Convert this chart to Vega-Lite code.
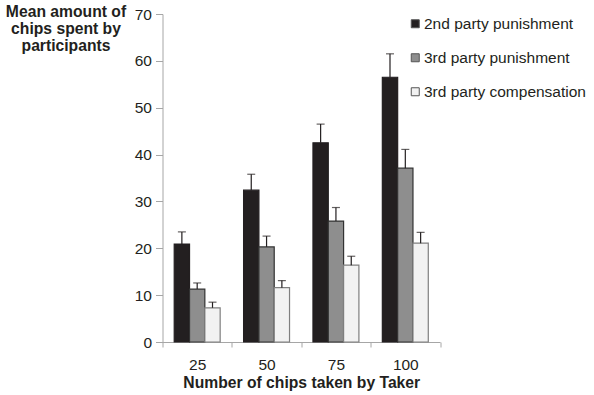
{
  "$schema": "https://vega.github.io/schema/vega-lite/v6.json",
  "autosize": "none",
  "padding": {"left": 162.5, "top": 14, "right": 154, "bottom": 53},
  "width": 277.5,
  "height": 328,
  "background": "white",
  "config": {
    "font": "Liberation Sans",
    "view": {"stroke": null},
    "axis": {"grid": false, "domainColor": "#a6a6a6", "tickColor": "#a6a6a6", "labelColor": "#231f20", "titleColor": "#231f20", "labelFontSize": 15.5, "titleFontSize": 15.7, "titleFontWeight": "bold", "labelFont": "Liberation Sans", "titleFont": "Liberation Sans"},
    "legend": {"labelFont": "Liberation Sans", "labelFontSize": 15.5, "labelColor": "#231f20"}
  },
  "data": {"values": [
    {"taken": "25", "cond": "2nd party punishment", "mean": 20.9, "upper": 23.5},
    {"taken": "25", "cond": "3rd party punishment", "mean": 11.3, "upper": 12.6},
    {"taken": "25", "cond": "3rd party compensation", "mean": 7.3, "upper": 8.5},
    {"taken": "50", "cond": "2nd party punishment", "mean": 32.4, "upper": 35.8},
    {"taken": "50", "cond": "3rd party punishment", "mean": 20.3, "upper": 22.6},
    {"taken": "50", "cond": "3rd party compensation", "mean": 11.6, "upper": 13.1},
    {"taken": "75", "cond": "2nd party punishment", "mean": 42.5, "upper": 46.5},
    {"taken": "75", "cond": "3rd party punishment", "mean": 25.8, "upper": 28.7},
    {"taken": "75", "cond": "3rd party compensation", "mean": 16.4, "upper": 18.3},
    {"taken": "100", "cond": "2nd party punishment", "mean": 56.5, "upper": 61.5},
    {"taken": "100", "cond": "3rd party punishment", "mean": 37.1, "upper": 41.1},
    {"taken": "100", "cond": "3rd party compensation", "mean": 21.1, "upper": 23.4}
  ]},
  "encoding": {
    "x": {"field": "taken", "type": "nominal", "sort": ["25", "50", "75", "100"],
      "scale": {"paddingInner": 0, "paddingOuter": 0},
      "axis": {"labelAngle": 0, "tickBand": "extent", "tickSize": 5, "labelPadding": 10, "title": "Number of chips taken by Taker", "titlePadding": 3}},
    "xOffset": {"field": "cond", "type": "nominal", "sort": ["2nd party punishment", "3rd party punishment", "3rd party compensation"],
      "scale": {"paddingInner": 0, "paddingOuter": 0.765}}
  },
  "layer": [
    {
      "mark": {"type": "bar", "strokeWidth": 1.2},
      "encoding": {
        "y": {"field": "mean", "type": "quantitative",
          "scale": {"domain": [0, 70], "nice": false},
          "axis": {"values": [0, 10, 20, 30, 40, 50, 60, 70], "tickSize": 7, "labelPadding": 4,
            "title": ["Mean amount of", "chips spent by", "participants"],
            "titleAngle": 0, "titleAlign": "center", "titleBaseline": "top",
            "titleX": -97, "titleY": -10, "titleLineHeight": 17}},
        "fill": {"field": "cond", "type": "nominal",
          "sort": ["2nd party punishment", "3rd party punishment", "3rd party compensation"],
          "scale": {"range": ["#231f20", "#8e8e8e", "#f2f2f2"]},
          "legend": {"title": null, "orient": "none", "legendX": 245, "legendY": 2,
            "symbolType": "square", "symbolSize": 64, "symbolStrokeColor": "#555555", "symbolStrokeWidth": 1,
            "rowPadding": 17, "labelOffset": 1, "labelLimit": 0}},
        "stroke": {"field": "cond", "type": "nominal",
          "sort": ["2nd party punishment", "3rd party punishment", "3rd party compensation"],
          "scale": {"range": ["#231f20", "#333333", "#7f7f7f"]}, "legend": null}
      }
    },
    {
      "mark": {"type": "rule", "color": "#231f20", "strokeWidth": 1.2},
      "encoding": {"y": {"field": "mean", "type": "quantitative"}, "y2": {"field": "upper"}}
    },
    {
      "mark": {"type": "tick", "color": "#231f20", "thickness": 1.2, "size": 8},
      "encoding": {"y": {"field": "upper", "type": "quantitative"}}
    }
  ]
}
